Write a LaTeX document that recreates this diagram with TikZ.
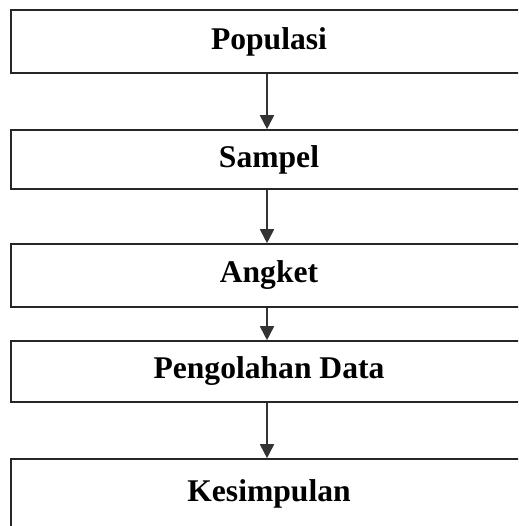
\documentclass[tikz,border=0pt]{standalone}
\usepackage{fontspec}
\setmainfont{Liberation Serif}
\usetikzlibrary{arrows.meta}
\begin{document}
\begin{tikzpicture}[x=1pt,y=-1pt,
  box/.style={draw=black!85, line width=1.6pt, fill=white, rectangle, minimum width=516pt, inner sep=0pt,
    font=\fontsize{31.6}{36}\selectfont\bfseries},
  arr/.style={draw=black!80, line width=1.8pt, -{Triangle[width=14pt,length=14pt]}}]
\useasboundingbox (0,0) rectangle (518,526);
\clip (0,0) rectangle (518,526);
\node[box, minimum height=63pt] (p) at (269,41.5) {Populasi};
\node[box, minimum height=59pt] (s) at (269,159.5) {Sampel};
\node[box, minimum height=63pt] (a) at (269,275.5) {Angket};
\node[box, minimum height=61pt] (d) at (269,371.5) {Pengolahan Data};
\node[box, minimum height=71pt, text depth=7pt] (k) at (269,494.5) {Kesimpulan};
\coordinate (ax) at (267,0);
\draw[arr] (p.south -| ax) -- (s.north -| ax);
\draw[arr] (s.south -| ax) -- (a.north -| ax);
\draw[arr] (a.south -| ax) -- (d.north -| ax);
\draw[arr] (d.south -| ax) -- (k.north -| ax);
\end{tikzpicture}
\end{document}
